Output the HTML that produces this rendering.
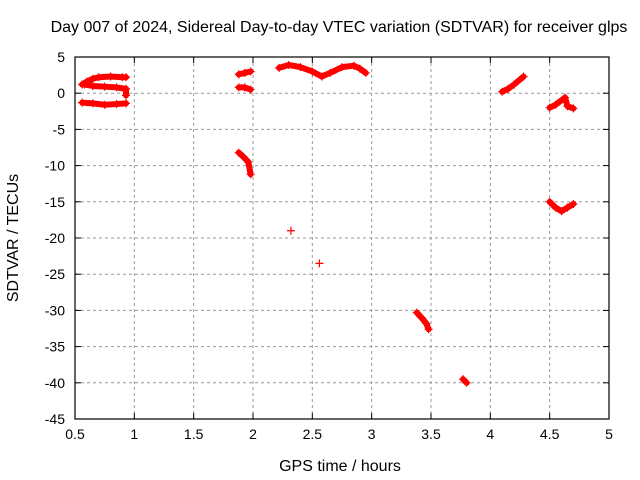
<!DOCTYPE html>
<html><head><meta charset="utf-8"><style>
body{margin:0;background:#fff;}
svg{display:block;font-family:"Liberation Sans",sans-serif;}
</style></head><body>
<svg id="chart" width="640" height="480">
<text x="339" y="32" font-size="16" text-anchor="middle">Day 007 of 2024, Sidereal Day-to-day VTEC variation (SDTVAR) for receiver glps</text>
<text x="340" y="471" font-size="16" text-anchor="middle">GPS time / hours</text>
<text transform="translate(18,238) rotate(-90)" font-size="16" text-anchor="middle">SDTVAR / TECUs</text>
<g id="grid"></g><g id="axes"></g><g id="marks"></g>
<rect x="75" y="57" width="534" height="362" fill="none" stroke="#000" stroke-width="1.2"/>
</svg>
<script>
const xTicks=[0.5,1,1.5,2,2.5,3,3.5,4,4.5,5];
const yTicks=[5,0,-5,-10,-15,-20,-25,-30,-35,-40,-45];
const trackA=[[0.56,1.2],[0.6,1.6],[0.65,2.0],[0.7,2.2],[0.8,2.3],[0.9,2.2],[0.93,2.2]];
const trackB=[[0.58,1.2],[0.65,1.0],[0.75,0.9],[0.85,0.8],[0.93,0.6],[0.93,-0.3]];
const trackC=[[0.56,-1.3],[0.65,-1.4],[0.75,-1.6],[0.85,-1.5],[0.93,-1.4]];
const trackD=[[1.88,2.6],[1.93,2.8],[1.98,3.0]];
const trackE=[[1.88,0.8],[1.93,0.8],[1.98,0.5]];
const trackF=[[1.88,-8.2],[1.92,-8.8],[1.96,-9.5],[1.98,-11.2]];
const trackG=[[2.22,3.5],[2.3,3.9],[2.4,3.6],[2.5,3.0],[2.58,2.3],[2.65,2.8],[2.75,3.6],[2.85,3.8],[2.9,3.4],[2.95,2.8]];
const trackH=[[3.38,-30.3],[3.42,-31],[3.46,-31.8],[3.48,-32.6]];
const trackI=[[3.77,-39.5],[3.8,-40]];
const trackJ=[[4.1,0.2],[4.15,0.6],[4.2,1.2],[4.28,2.3]];
const trackK=[[4.5,-2],[4.55,-1.6],[4.63,-0.6],[4.65,-1.8],[4.7,-2.1]];
const trackL=[[4.5,-15],[4.55,-15.8],[4.6,-16.3],[4.65,-15.8],[4.7,-15.3]];
const singles=[[2.32,-19],[2.56,-23.5]];
const tracks=[trackA,trackB,trackC,trackD,trackE,trackF,trackG,trackH,trackI,trackJ,trackK,trackL];

const NS="http://www.w3.org/2000/svg";
const X0=75,X1=609,Y0=57,Y1=419;
const sx=v=>X0+(v-0.5)/(5-0.5)*(X1-X0);
const sy=v=>Y0+(5-v)/(50)*(Y1-Y0);
function mk(tag,attrs,parent){const e=document.createElementNS(NS,tag);for(const k in attrs)e.setAttribute(k,attrs[k]);parent.appendChild(e);return e;}
const grid=document.getElementById('grid'),axes=document.getElementById('axes'),marks=document.getElementById('marks');
xTicks.forEach(t=>{const x=sx(t);
 if(t>0.5&&t<5){const l=mk('line',{x1:x,x2:x,y1:Y0,y2:Y1,stroke:'#999','stroke-dasharray':'3,3'},grid);
 
 }
 mk('line',{x1:x,x2:x,y1:Y1,y2:Y1-6,stroke:'#000'},axes);
 mk('line',{x1:x,x2:x,y1:Y0,y2:Y0+6,stroke:'#000'},axes);
 const tx=mk('text',{x:x,y:Y1+20,'font-size':14,'text-anchor':'middle'},axes);tx.textContent=t;
 
 });
yTicks.forEach(t=>{const y=sy(t);
 if(t<5&&t>-45){const l=mk('line',{x1:X0,x2:X1,y1:y,y2:y,stroke:'#999','stroke-dasharray':'3,3'},grid);
 
 }
 mk('line',{x1:X0,x2:X0+6,y1:y,y2:y,stroke:'#000'},axes);
 mk('line',{x1:X1,x2:X1-6,y1:y,y2:y,stroke:'#000'},axes);
 const tx=mk('text',{x:X0-10,y:y+5,'font-size':14,'text-anchor':'end'},axes);tx.textContent=t;
 
 });
function plus(x,y){const p=mk('path',{d:`M${x-4},${y}h8M${x},${y-4}v8`,stroke:'#f00','stroke-width':1.2},marks);
 
 }
tracks.forEach(tr=>{const pl=mk('polyline',{points:tr.map(p=>sx(p[0])+','+sy(p[1])).join(' '),fill:'none',stroke:'#f00','stroke-width':6,'stroke-linejoin':'round','stroke-linecap':'round'},marks);
 
 
 tr.forEach(p=>plus(sx(p[0]),sy(p[1])));});
singles.forEach(p=>plus(sx(p[0]),sy(p[1])));
</script>
</body></html>
